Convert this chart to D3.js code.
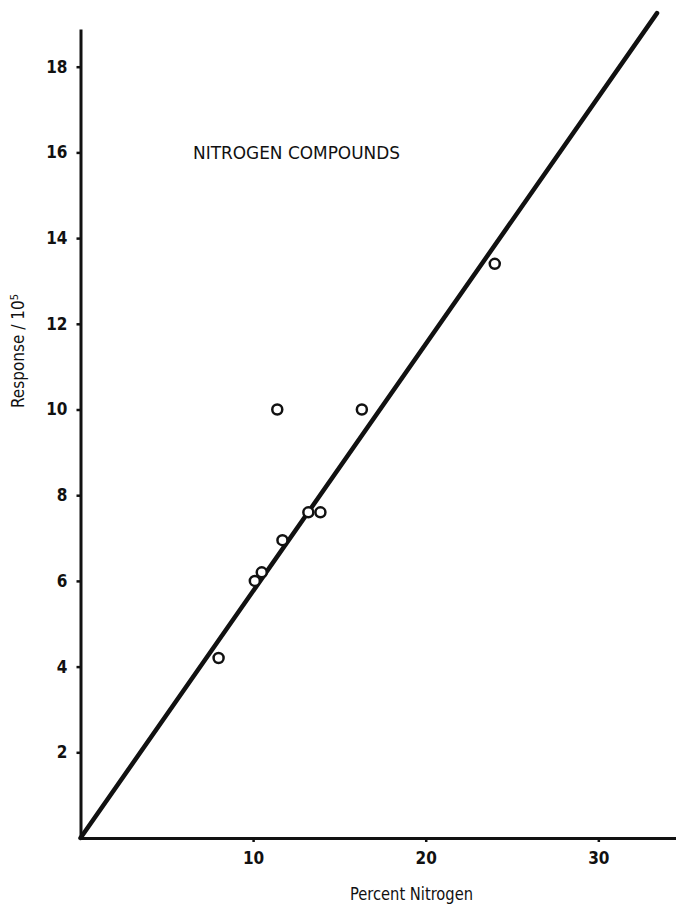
<!DOCTYPE html>
<html>
<head>
    <title>Nitrogen Compounds</title>
    <script src="https://d3js.org/d3.v7.min.js"></script>
    <style>
        body { margin: 0; background: #fff; }
        svg { display: block; }
        .lbl { font-family: "DejaVu Sans", sans-serif; font-stretch: condensed; fill: #111; }
    </style>
</head>
<body>
<div class="chart"></div>
<script>
    // measured points, percent nitrogen vs response / 10^5
    const percentN = [8.0, 10.1, 10.5, 11.7, 11.4, 13.2, 13.9, 16.3, 24.0];
    const response = [4.2, 6.0, 6.2, 6.95, 10.0, 7.6, 7.6, 10.0, 13.4];
    // fitted line end points
    const fitX = [0, 33.4];
    const fitY = [0, 19.25];
    const yTicks = [2, 4, 6, 8, 10, 12, 14, 16, 18];
    const xTicks = [10, 20, 30];

    const width = 676, height = 908;
    const svg = d3.select(".chart").append("svg").attr("width", width).attr("height", height);

    const x = d3.scaleLinear().domain([0, 34.5]).range([80.5, 676]);
    const y = d3.scaleLinear().domain([0, 18.88]).range([838, 29]);

    // axes
    const gx = svg.append("g")
        .attr("transform", "translate(0," + y(0) + ")")
        .call(d3.axisBottom(x).tickValues(xTicks).tickSize(4).tickSizeOuter(0).tickPadding(10).tickFormat(d3.format("d")));
    const gy = svg.append("g")
        .attr("transform", "translate(" + x(0) + ",0)")
        .call(d3.axisLeft(y).tickValues(yTicks).tickSize(4).tickSizeOuter(0).tickPadding(9).tickFormat(d3.format("d")));

    [gx, gy].forEach(function(g) {
        g.select(".domain").attr("stroke", "#111").attr("stroke-width", 3);
        g.selectAll(".tick line").attr("stroke", "#111").attr("stroke-width", 2.5);
        g.selectAll(".tick text").attr("class", "lbl").attr("fill", "#111")
            .style("font-size", "17px").style("font-weight", "bold");
    });

    // fit line
    const fit = fitX.map((d, i) => [d, fitY[i]]);
    svg.append("path")
        .datum(fit)
        .attr("fill", "none")
        .attr("stroke", "#111")
        .attr("stroke-width", 4.5)
        .attr("stroke-linecap", "round")
        .attr("d", d3.line().x(d => x(d[0])).y(d => y(d[1])));

    // points
    svg.selectAll(".pt")
        .data(percentN.map((d, i) => ({x: d, y: response[i]})))
        .enter().append("circle")
        .attr("class", "pt")
        .attr("cx", d => x(d.x))
        .attr("cy", d => y(d.y))
        .attr("r", 5)
        .attr("fill", "#fff")
        .attr("stroke", "#111")
        .attr("stroke-width", 2.5);

    // labels
    svg.append("text").attr("class", "lbl")
        .attr("x", 193).attr("y", 159)
        .attr("textLength", 207).attr("lengthAdjust", "spacingAndGlyphs")
        .style("font-size", "18px")
        .text("NITROGEN COMPOUNDS");

    svg.append("text").attr("class", "lbl")
        .attr("x", 350).attr("y", 900)
        .attr("textLength", 123).attr("lengthAdjust", "spacingAndGlyphs")
        .style("font-size", "18px")
        .text("Percent  Nitrogen");

    const yl = svg.append("text").attr("class", "lbl")
        .attr("transform", "translate(24,408) rotate(-90)")
        .style("font-size", "17px");
    yl.append("tspan").text("Response / 10");
    yl.append("tspan").attr("dy", "-6").style("font-size", "11px").text("5");
</script>
</body>
</html>
